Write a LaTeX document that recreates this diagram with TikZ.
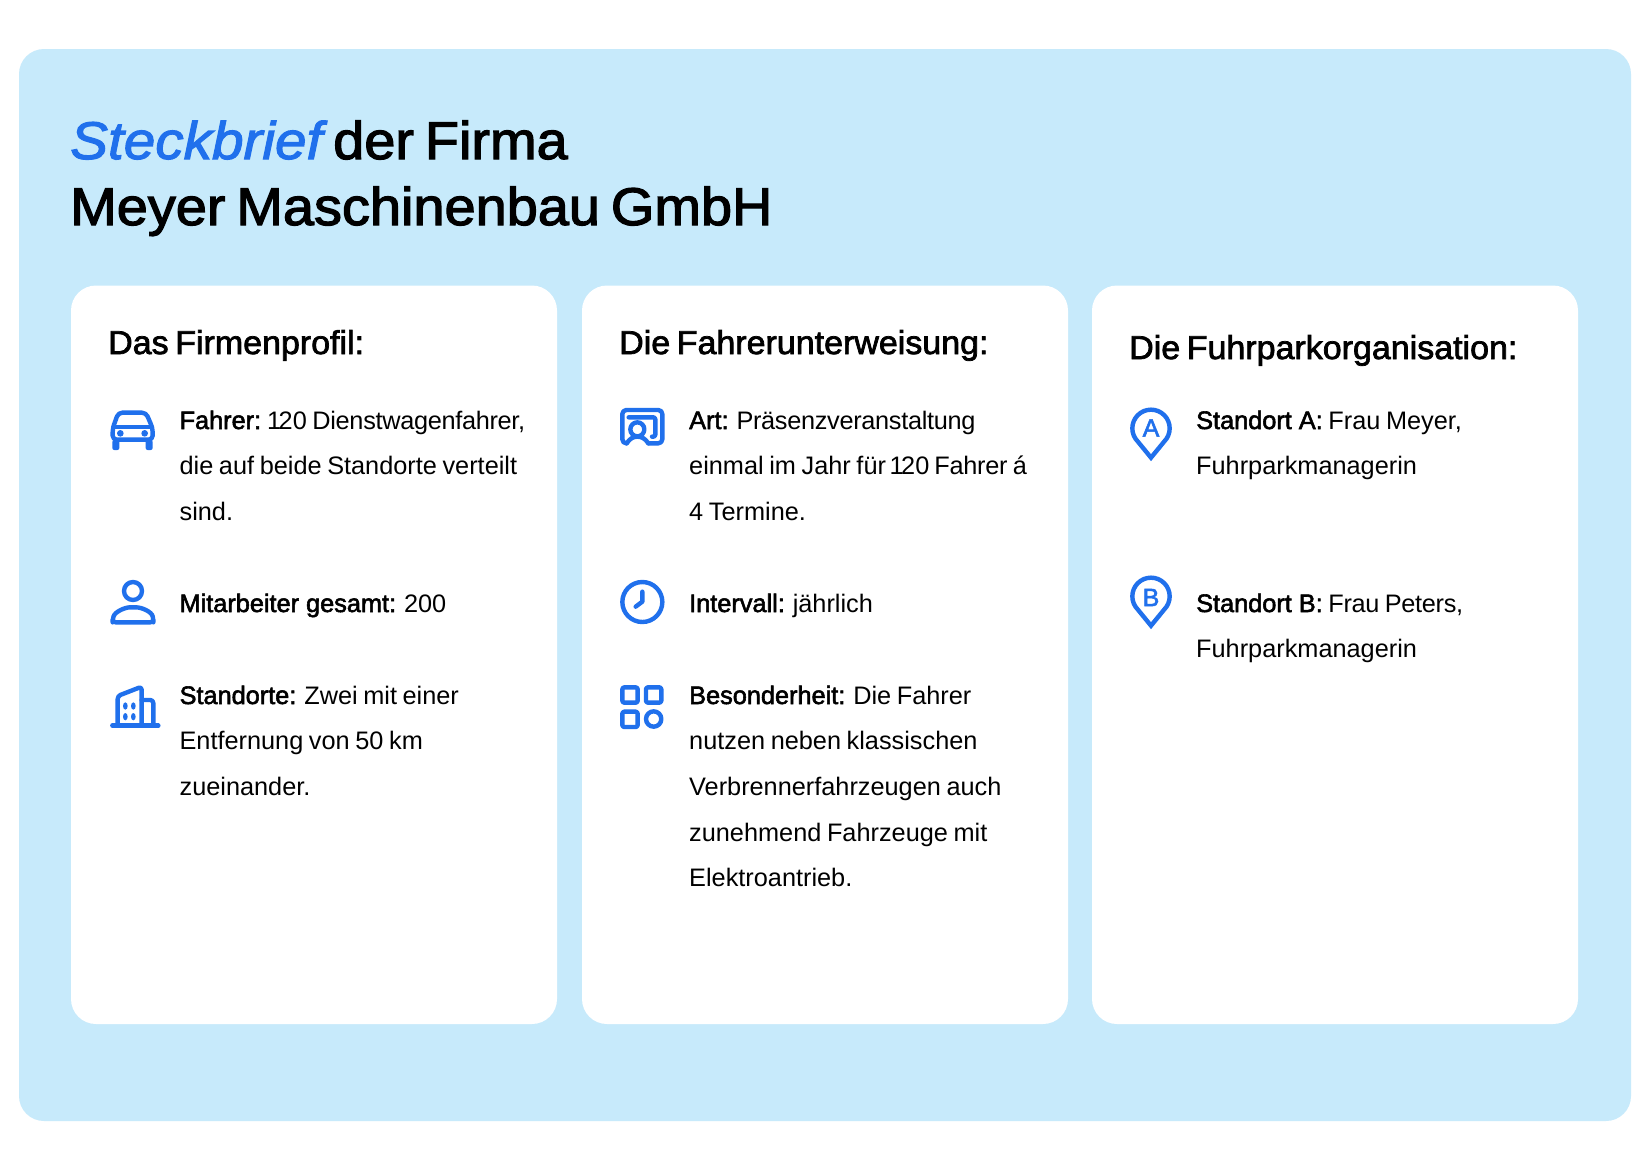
\documentclass[tikz,border=0pt]{standalone}
\usepackage{fontspec}
\setmainfont[WordSpace=0.8]{Liberation Sans}
\newfontfamily\tightf[LetterSpace=-1.2,WordSpace=0.8]{Liberation Sans}
\newfontfamily\medf[FakeBold=2.2]{Liberation Sans}
\newfontfamily\titf[FakeBold=2.3,FakeStretch=1.055,WordSpace=0.7]{Liberation Sans}
\newfontfamily\itf[FakeBold=2.1,FakeStretch=1.07]{Liberation Sans Italic}
\newfontfamily\hedf[FakeBold=2.2,FakeStretch=1.03,WordSpace=0.7]{Liberation Sans}
\definecolor{skyb}{RGB}{199,234,251}
\definecolor{iconb}{RGB}{32,112,236}
\tikzset{
  x=1pt,y=-1pt,
  panel/.style={fill=skyb,draw=none,rounded corners=25pt},
  card/.style={fill=white,draw=none,rounded corners=25pt},
  titletxt/.style={anchor=base west,inner sep=0pt,font=\fontsize{53}{65.5}\selectfont\titf,align=left},
  headtxt/.style={anchor=base west,inner sep=0pt,font=\fontsize{33}{40}\selectfont\hedf},
  bodytxt/.style={anchor=base west,inner sep=0pt,font=\fontsize{25.3}{45.7}\selectfont,align=left},
  ic/.style={draw=iconb,line width=4.4pt,line cap=round,line join=round,fill=none},
  icf/.style={fill=iconb,draw=none},
  pinletter/.style={inner sep=0pt,text=iconb,font=\fontsize{25}{25}\selectfont\medf},
}
\newcommand{\bb}[1]{{\medf #1}}
\newcommand{\tg}[1]{{\tightf #1}}
\newcommand{\ota}{\kern-2pt 1\kern-2.5pt 20}
\begin{document}
\begin{tikzpicture}
\useasboundingbox (0,0) rectangle (1645,1167);
\fill[white] (0,0) rectangle (1645,1167);
\path[panel] (19,49) rectangle (1631,1121);
\path[card] (71,285.5) rectangle (557,1024);
\path[card] (582,285.5) rectangle (1068,1024);
\path[card] (1092,285.5) rectangle (1578,1024);

\node[titletxt] (t1) at (70,159) {{\itf\color{iconb}Steckbrief} der Firma};
\node[titletxt] (t2) at (70,225) {Meyer Maschinenbau GmbH};

\node[headtxt] (h1) at (108,354) {Das Firmenprofil:};
\node[headtxt] (h2) at (619,354) {Die Fahrerunterweisung:};
\node[headtxt] (h3) at (1129,359) {Die Fuhrparkorganisation:};

\node[bodytxt] (b1) at (179.4,520.4) {\bb{Fahrer:} \ota\ \tg{Dienstwagenfahrer,}\\die auf beide Standorte verteilt\\sind.};
\node[bodytxt] (b2) at (179.4,612) {\bb{Mitarbeiter gesamt:} 200};
\node[bodytxt] (b3) at (179.4,795.4) {\bb{Standorte:} Zwei mit einer\\Entfernung von 50 km\\zueinander.};
\node[bodytxt] (m1) at (689,520.4) {\bb{Art:} \tg{Präsenzveranstaltung}\\einmal im Jahr für \ota\kern-0.5pt\ \tg{Fahrer á}\\4 Termine.};
\node[bodytxt] (m2) at (689,612) {\bb{Intervall:} jährlich};
\node[bodytxt] (m3) at (689,886.8) {\bb{Besonderheit:} Die Fahrer\\nutzen neben klassischen\\Verbrennerfahrzeugen auch\\zunehmend Fahrzeuge mit\\Elektroantrieb.};
\node[bodytxt] (r1) at (1196,474.7) {\bb{Standort A:} Frau Meyer,\\Fuhrparkmanagerin};
\node[bodytxt] (r2) at (1196,657.7) {\bb{Standort B:} \tg{Frau Peters,}\\Fuhrparkmanagerin};

% car
\begin{scope}[shift={(80,380)},scale=1/3]
 \draw[ic,rounded corners=4pt] (98,179) -- (98,145) -- (115,98) -- (198,98) -- (218,145) -- (218,179) -- cycle;
 \draw[ic] (100,141) -- (216,141);
 \fill[icf,rounded corners=2pt] (97,180) rectangle (118,210);
 \fill[icf,rounded corners=2pt] (197,180) rectangle (218,210);
 \fill[icf] (121,160) circle (10);
 \fill[icf] (194,160) circle (10);
 % person
 \draw[ic] (159,633) circle (27);
 \draw[ic,rounded corners=3pt] (98,727) -- (98,718) .. controls (105,695) and (135,682) .. (159,682) .. controls (185,682) and (215,695) .. (220,718) -- (220,727) -- cycle;
 % building
 \draw[ic] (97,1037) -- (235,1037);
 \draw[ic,rounded corners=3pt] (113,1037) -- (113,948) -- (185,920) -- (185,1037);
 \draw[ic,rounded corners=3pt] (185,960) -- (220,960) -- (220,1037);
 \foreach \px/\py in {136/978,160/978,136/1010,160/1010}{\fill[icf] (\px,\py) ellipse (7 and 11);}
\end{scope}
% presentation, clock, grid
\begin{scope}[shift={(600,380)},scale=1/3]
 \draw[ic,rounded corners=4pt] (80,190) -- (67,190) -- (67,90) -- (187,90) -- (187,190) -- (145,190);
 \draw[ic] (80,190) .. controls (90,175) and (100,170) .. (112,170) .. controls (125,170) and (135,175) .. (145,190);
 \draw[ic] (112,148) circle (21);
 \draw[ic,rounded corners=2pt] (86,112) -- (166,112) -- (166,170) -- (156,170);
 \draw[ic] (127,666) circle (60);
 \draw[ic] (127,635) -- (127,665) -- (107,680);
 \draw[ic,rounded corners=2pt] (67,922) rectangle (113,968);
 \draw[ic,rounded corners=2pt] (138,922) rectangle (184,968);
 \draw[ic,rounded corners=2pt] (67,995) rectangle (113,1041);
 \draw[ic] (161,1017) circle (23);
\end{scope}
% pins
\begin{scope}[shift={(1100,380)},scale=1/3]
 \draw[ic,line cap=butt,line join=miter] (153,233) -- (113.4,184.6) arc[start angle=135,end angle=405,radius=56] -- cycle;
 \draw[ic,line cap=butt,line join=miter] (153,737) -- (113.4,688.6) arc[start angle=135,end angle=405,radius=56] -- cycle;
\end{scope}
\node[pinletter] (pa) at (1151,428) {A};
\node[pinletter] (pb) at (1151,597.5) {B};
\end{tikzpicture}
\end{document}
